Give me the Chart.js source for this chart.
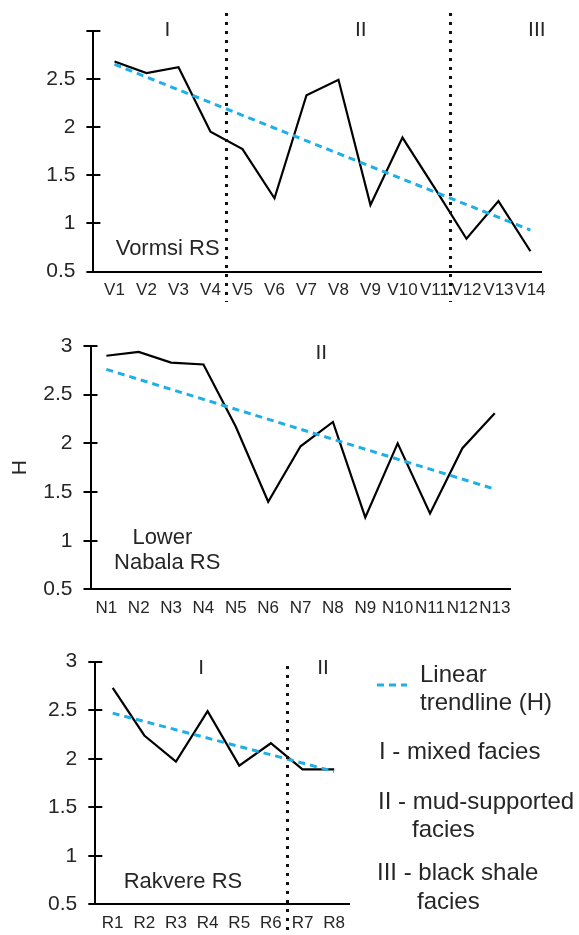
<!DOCTYPE html>
<html>
<head>
<meta charset="utf-8">
<script src="https://cdn.jsdelivr.net/npm/chart.js@4.4.1/dist/chart.umd.min.js"></script>
<style>
  html, body { margin: 0; padding: 0; background: #fff; }
  canvas { position: absolute; left: 0; }
</style>
</head>
<body>
<canvas id="vormsi" width="579" height="310" style="top:0"></canvas>
<canvas id="nabala" width="579" height="310" style="top:310px"></canvas>
<canvas id="rakvere" width="579" height="315" style="top:620px"></canvas>
<script>
// H values
const vormsiLabels = ['V1','V2','V3','V4','V5','V6','V7','V8','V9','V10','V11','V12','V13','V14'];
const vormsiH = [2.68, 2.56, 2.62, 1.95, 1.77, 1.26, 2.33, 2.49, 1.19, 1.89, 1.37, 0.84, 1.23, 0.71];
const vormsiTrend = [2.65, 0.93];

const nabalaLabels = ['N1','N2','N3','N4','N5','N6','N7','N8','N9','N10','N11','N12','N13'];
const nabalaH = [2.90, 2.94, 2.83, 2.81, 2.17, 1.40, 1.97, 2.22, 1.24, 2.00, 1.28, 1.95, 2.31];
const nabalaTrend = [2.76, 1.53];

const rakvereLabels = ['R1','R2','R3','R4','R5','R6','R7','R8'];
const rakvereH = [2.73, 2.24, 1.97, 2.49, 1.93, 2.16, 1.89, 1.89];
const rakvereTrend = [2.47, 1.87];

const FONT = '"Liberation Sans", Arial, Helvetica, sans-serif';
const TEXT = '#262626';
const TREND = '#1dafe6';

const extras = {
  id: 'extras',
  afterDraw(chart, args, o) {
    const { ctx, scales: { x, y } } = chart;
    ctx.save();
    // cross tick marks on the y axis
    ctx.strokeStyle = '#000';
    ctx.lineWidth = 2;
    y.ticks.forEach(t => {
      const py = Math.round(y.getPixelForValue(t.value));
      ctx.beginPath();
      ctx.moveTo(x.left - 7, py);
      ctx.lineTo(x.left + 7, py);
      ctx.stroke();
    });
    // facies dividers
    ctx.strokeStyle = '#111';
    ctx.lineWidth = 3;
    ctx.setLineDash([3, 6]);
    (o.dividers || []).forEach(v => {
      const px = Math.round(x.getPixelForValue(v)) + 0.5;
      ctx.beginPath();
      ctx.moveTo(px, o.divTop);
      ctx.lineTo(px, o.divBottom);
      ctx.stroke();
    });
    ctx.setLineDash([]);
    ctx.fillStyle = TEXT;
    ctx.textBaseline = 'middle';
    (o.texts || []).forEach(t => {
      ctx.font = t.size + 'px ' + FONT;
      ctx.textAlign = 'center';
      ctx.fillText(t.text, x.getPixelForValue(t.x), y.getPixelForValue(t.y));
    });
    // legend (only on the last panel)
    if (o.legend) {
      const L = o.legend;
      ctx.strokeStyle = TREND;
      ctx.lineWidth = 3;
      ctx.setLineDash([7, 5]);
      ctx.beginPath();
      ctx.moveTo(L.lineX[0], L.lineY);
      ctx.lineTo(L.lineX[1], L.lineY);
      ctx.stroke();
      ctx.setLineDash([]);
      ctx.font = L.size + 'px ' + FONT;
      ctx.textAlign = 'left';
      L.items.forEach(it => ctx.fillText(it[0], it[1], it[2]));
    }
    ctx.restore();
  }
};

function panel(id, labels, values, trend, opt) {
  return new Chart(document.getElementById(id), {
    type: 'line',
    data: {
      datasets: [
        {
          data: values.map((v, i) => ({ x: i, y: v })),
          borderColor: '#000', borderWidth: 2.2, pointRadius: 0, tension: 0, order: 2
        },
        {
          data: [{ x: 0, y: trend[0] }, { x: labels.length - 1, y: trend[1] }],
          borderColor: TREND, borderWidth: 3, borderDash: [7, 5], pointRadius: 0, order: 1
        }
      ]
    },
    options: {
      responsive: false,
      animation: false,
      devicePixelRatio: 1,
      layout: { padding: { top: opt.top, right: 579 - opt.right, left: 0, bottom: 0 } },
      plugins: {
        legend: { display: false },
        tooltip: { enabled: false },
        extras: opt.extras
      },
      scales: {
        x: {
          type: 'linear', min: opt.xmin, max: opt.xmax,
          grid: { display: false, drawTicks: false },
          border: { color: '#000', width: 2 },
          afterBuildTicks: s => { s.ticks = labels.map((l, i) => ({ value: i })); },
          afterFit: s => { s.height = opt.h - opt.bottom; },
          ticks: {
            autoSkip: false, maxRotation: 0, padding: 9, color: TEXT,
            font: { family: FONT, size: 17 },
            callback: v => labels[v]
          }
        },
        y: {
          min: 0.5, max: 3,
          grid: { display: false, drawTicks: false },
          border: { color: '#000', width: 2 },
          afterFit: s => { s.width = opt.left; },
          ticks: {
            stepSize: 0.5, padding: 18, color: TEXT,
            font: { family: FONT, size: 21 },
            callback: v => (opt.hideTop && v === 3) ? '' : String(v)
          },
          title: opt.title
            ? { display: true, text: opt.title, color: TEXT, font: { family: FONT, size: 21 }, padding: { top: 8, bottom: 0 } }
            : { display: false }
        }
      }
    },
    plugins: [extras]
  });
}

panel('vormsi', vormsiLabels, vormsiH, vormsiTrend, {
  left: 93.4, right: 541, top: 23, bottom: 271.5, h: 310, xmin: -0.66, xmax: 13.33, hideTop: true,
  extras: {
    dividers: [3.5, 10.5], divTop: 13, divBottom: 302,
    texts: [
      { text: 'I', x: 1.65, y: 3.0, size: 21 },
      { text: 'II', x: 7.7, y: 3.0, size: 21 },
      { text: 'III', x: 13.2, y: 3.0, size: 21 },
      { text: 'Vormsi RS', x: 1.66, y: 0.73, size: 22 }
    ]
  }
});

panel('nabala', nabalaLabels, nabalaH, nabalaTrend, {
  left: 90.5, right: 510.3, top: 36, bottom: 283.3, h: 310, xmin: -0.49, xmax: 12.48, title: 'H',
  extras: {
    texts: [
      { text: 'II', x: 6.64, y: 2.93, size: 21 },
      { text: 'Lower', x: 1.73, y: 1.03, size: 22 },
      { text: 'Nabala RS', x: 1.88, y: 0.77, size: 22 }
    ]
  }
});

panel('rakvere', rakvereLabels, rakvereH, rakvereTrend, {
  left: 95.3, right: 349, top: 41.7, bottom: 289.3, h: 315, xmin: -0.55, xmax: 7.47,
  extras: {
    dividers: [5.5], divTop: 46, divBottom: 315,
    texts: [
      { text: 'I', x: 2.8, y: 2.93, size: 21 },
      { text: 'II', x: 6.65, y: 2.93, size: 21 },
      { text: 'Rakvere RS', x: 2.22, y: 0.73, size: 22 }
    ],
    legend: {
      size: 24, lineX: [377, 407], lineY: 65,
      items: [
        ['Linear', 420, 55],
        ['trendline (H)', 420, 83],
        ['I - mixed facies', 379, 132],
        ['II - mud-supported', 378, 182],
        ['facies', 412, 210],
        ['III - black shale', 377, 253],
        ['facies', 417, 282]
      ]
    }
  }
});
</script>
</body>
</html>
